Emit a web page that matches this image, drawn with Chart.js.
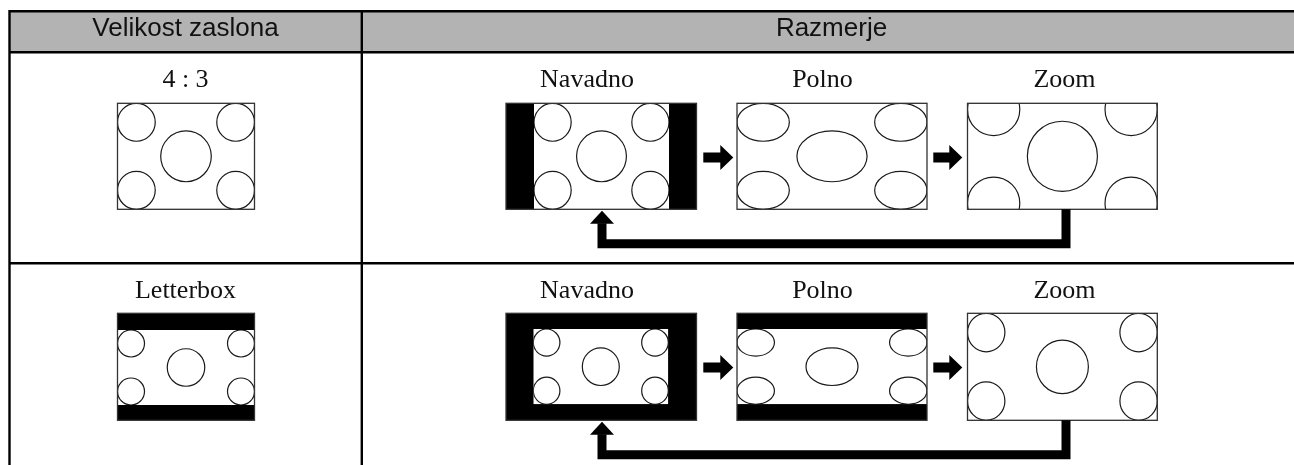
<!DOCTYPE html>
<html>
<head>
<meta charset="utf-8">
<script src="https://cdn.jsdelivr.net/npm/chart.js@4.4.1/dist/chart.umd.min.js"></script>
<style>
  html, body { margin: 0; padding: 0; background: #fff; }
  #wrap { width: 1294px; height: 465px; }
</style>
</head>
<body>
<div id="wrap"><canvas id="chart" width="1294" height="465"></canvas></div>
<script>
// table text
const headers = ['Velikost zaslona', 'Razmerje'];
const sourceFormats = ['4 : 3', 'Letterbox'];
const aspectModes = ['Navadno', 'Polno', 'Zoom'];

// source pictures (height = 1): four corner circles + one centre circle
const pictureAspect = [1.30, 1.827];
const cornerRadius = [0.179, 0.18];
const centerRadius = [0.24, 0.25];

// table grid (in canvas units)
const colX = [9.5, 361.8, 1300];
const rowY = [11.2, 52.2, 263.3, 475];
const headerX = [185.5, 831.5];
const headerBaseline = 36;
const labelX = [185.5, 587, 822.5, 1064.5];
const labelBaseline = [87, 298];

// frames: x range per panel (source, Navadno, Polno, Zoom), y range per row
const frameX = [[117.5, 254.5], [506, 696.5], [737, 927], [967.5, 1157.3]];
const frameY = [[103.3, 209.3], [313.3, 420.3]];
// where the picture sits inside each frame, null = scaled to fill the width (Zoom)
const contentRow1 = [[117.5, 254.5, 103.3, 209.3], [534, 669, 103.3, 209.3], [737, 927, 103.3, 209.3], null];
const contentRow2 = [[117.5, 254.5, 330, 405], [533.3, 668.3, 329, 404.3], [737, 927, 329, 404.3], null];

// arrows
const rightArrowX = [[703.3, 733.3], [933.3, 962.3]];
const rightArrowY = [157.5, 367.5];
const returnX = [602, 1066];

const canvas = document.getElementById('chart');

function returnPath(row) {
  const fb = frameY[row][1];
  return [
    { x: returnX[1], y: fb },
    { x: returnX[1], y: fb + 34.5 },
    { x: returnX[0], y: fb + 34.5 },
    { x: returnX[0], y: fb + 14 }
  ];
}

const diagram = {
  id: 'diagram',
  beforeDatasetsDraw(chart) {
    const { ctx, scales: { x, y } } = chart;
    const X = v => x.getPixelForValue(v);
    const Y = v => y.getPixelForValue(v);

    ctx.save();
    // header band
    ctx.fillStyle = '#b3b3b3';
    ctx.fillRect(X(colX[0]), Y(rowY[0]), X(colX[2]) - X(colX[0]), Y(rowY[1]) - Y(rowY[0]));

    // table lines
    ctx.strokeStyle = '#000';
    ctx.lineWidth = 2.4;
    ctx.lineCap = 'square';
    ctx.beginPath();
    rowY.slice(0, 3).forEach(v => { ctx.moveTo(X(colX[0]), Y(v)); ctx.lineTo(X(colX[2]), Y(v)); });
    colX.slice(0, 2).forEach(v => { ctx.moveTo(X(v), Y(rowY[0])); ctx.lineTo(X(v), Y(rowY[3])); });
    ctx.stroke();

    // header text
    ctx.fillStyle = '#111';
    ctx.textAlign = 'center';
    ctx.textBaseline = 'alphabetic';
    ctx.font = '26px "Liberation Sans", Arial, sans-serif';
    headers.forEach((h, i) => ctx.fillText(h, X(headerX[i]), Y(headerBaseline)));

    // row labels
    ctx.font = '26px "Liberation Serif", "Times New Roman", serif';
    sourceFormats.forEach((s, r) => {
      ctx.fillText(s, X(labelX[0]), Y(labelBaseline[r]));
      aspectModes.forEach((m, i) => ctx.fillText(m, X(labelX[i + 1]), Y(labelBaseline[r])));
    });

    // screens
    [contentRow1, contentRow2].forEach((contents, r) => {
      const W = pictureAspect[r];
      const cr = cornerRadius[r], mr = centerRadius[r];
      const circles = [
        [cr, cr, cr], [W - cr, cr, cr], [cr, 1 - cr, cr], [W - cr, 1 - cr, cr], [W / 2, 0.5, mr]
      ];
      frameX.forEach((fx, p) => {
        const fy = frameY[r];
        let c = contents[p];
        if (!c) {
          // zoom: fill the width, never leave bars top/bottom
          const h = Math.max((fx[1] - fx[0]) / W, fy[1] - fy[0]);
          const mid = (fy[0] + fy[1]) / 2;
          c = [fx[0], fx[1], mid - h / 2, mid + h / 2];
        }
        const x0 = X(fx[0]), x1 = X(fx[1]), y0 = Y(fy[0]), y1 = Y(fy[1]);
        ctx.fillStyle = '#000';
        ctx.fillRect(x0, y0, x1 - x0, y1 - y0);

        const cx0 = X(c[0]), cx1 = X(c[1]), cy0 = Y(c[2]), cy1 = Y(c[3]);
        const ix0 = Math.max(cx0, x0), ix1 = Math.min(cx1, x1);
        const iy0 = Math.max(cy0, y0), iy1 = Math.min(cy1, y1);
        ctx.save();
        ctx.beginPath();
        ctx.rect(ix0, iy0, ix1 - ix0, iy1 - iy0);
        ctx.clip();
        ctx.fillStyle = '#fff';
        ctx.fillRect(ix0, iy0, ix1 - ix0, iy1 - iy0);
        const sx = (cx1 - cx0) / W, sy = cy1 - cy0;
        ctx.strokeStyle = '#1a1a1a';
        ctx.lineWidth = 1.2;
        circles.forEach(([u, v, rad]) => {
          ctx.beginPath();
          ctx.ellipse(cx0 + u * sx, cy0 + v * sy, rad * sx, rad * sy, 0, 0, Math.PI * 2);
          ctx.stroke();
        });
        ctx.restore();

        ctx.strokeStyle = '#333';
        ctx.lineWidth = 1.3;
        ctx.strokeRect(x0, y0, x1 - x0, y1 - y0);
      });
    });

    // right arrows between the screens
    ctx.fillStyle = '#000';
    rightArrowY.forEach(cyv => {
      rightArrowX.forEach(([a, b]) => {
        const xa = X(a), xb = X(b), xh = X(b - 13), cy = Y(cyv);
        ctx.beginPath();
        ctx.moveTo(xa, cy - 5);
        ctx.lineTo(xh, cy - 5);
        ctx.lineTo(xh, cy - 12.5);
        ctx.lineTo(xb, cy);
        ctx.lineTo(xh, cy + 12.5);
        ctx.lineTo(xh, cy + 5);
        ctx.lineTo(xa, cy + 5);
        ctx.closePath();
        ctx.fill();
      });
    });
    ctx.restore();
  },
  afterDatasetsDraw(chart) {
    const { ctx, scales: { x, y } } = chart;
    const X = v => x.getPixelForValue(v);
    const Y = v => y.getPixelForValue(v);
    ctx.save();
    ctx.fillStyle = '#000';
    frameY.forEach(fy => {
      const tip = Y(fy[1] + 1.4), base = Y(fy[1] + 14.5);
      ctx.beginPath();
      ctx.moveTo(X(returnX[0] - 12), base);
      ctx.lineTo(X(returnX[0]), tip);
      ctx.lineTo(X(returnX[0] + 12), base);
      ctx.closePath();
      ctx.fill();
    });
    ctx.restore();
  }
};

new Chart(canvas, {
  type: 'scatter',
  data: {
    datasets: [0, 1].map(r => ({
      data: returnPath(r),
      showLine: true,
      borderColor: '#000',
      backgroundColor: '#000',
      borderWidth: 9,
      borderCapStyle: 'butt',
      borderJoinStyle: 'miter',
      pointRadius: 0,
      pointHoverRadius: 0,
      tension: 0
    }))
  },
  options: {
    responsive: false,
    animation: false,
    events: [],
    layout: { padding: 0, autoPadding: false },
    plugins: { legend: { display: false }, tooltip: { enabled: false } },
    scales: {
      x: { type: 'linear', min: 0, max: 1294, display: false },
      y: { type: 'linear', min: 0, max: 465, reverse: true, display: false }
    }
  },
  plugins: [diagram]
});
</script>
</body>
</html>
